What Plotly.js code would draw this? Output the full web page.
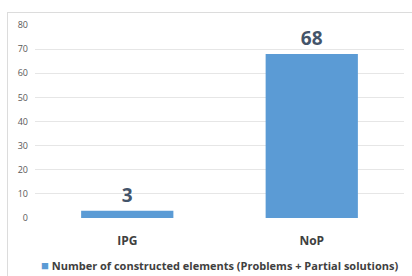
<!DOCTYPE html>
<html><head><meta charset="utf-8">
<script src="https://cdn.plot.ly/plotly-3.0.1.min.js"></script>
<style>
html,body{margin:0;padding:0;background:#fff;}
#frame{position:absolute;left:7px;top:12px;width:420px;height:280px;border:1px solid #dcdcdc;box-sizing:border-box;}
#chart{position:absolute;left:0;top:0;width:412px;height:276px;}
</style></head>
<body>
<div id="frame"></div>
<div id="chart"></div>
<script>
const categories = ["IPG", "NoP"];
const values = [3, 68];
const seriesName = "Number of constructed elements (Problems + Partial solutions)";
const yTicks = [0, 10, 20, 30, 40, 50, 60, 70, 80];
const barColor = "#5B9BD5";

Plotly.newPlot("chart", [{
  type: "bar",
  x: categories,
  y: values,
  name: seriesName,
  text: values.map(String),
  textposition: "outside",
  cliponaxis: false,
  textfont: {family: "Open Sans", size: 19, color: "#44546A", weight: "bold"},
  marker: {color: barColor}
}], {
  width: 412, height: 276,
  paper_bgcolor: "rgba(0,0,0,0)", plot_bgcolor: "rgba(0,0,0,0)",
  margin: {l: 35, r: 8, t: 25, b: 58},
  bargap: 0.5,
  showlegend: false,
  xaxis: {
    tickfont: {family: "Open Sans", size: 12, color: "#404040", weight: "bold"},
    showline: false, ticks: "", ticklen: 0, ticklabelstandoff: 14
  },
  yaxis: {
    range: [0, 80], tickvals: yTicks, ticktext: yTicks.map(String),
    tickfont: {family: "Open Sans", size: 9, color: "#595959"},
    gridcolor: "#e6e6e6", zeroline: false, showline: false, ticks: "", ticklen: 0,
    ticklabelstandoff: 6
  },
  annotations: [{
    xref: "paper", yref: "paper", x: 0.5, y: -0.245, xanchor: "center", yanchor: "middle",
    showarrow: false,
    text: '<span style="color:' + barColor + ';font-size:13px">■</span> ' + seriesName,
    font: {family: "Open Sans", size: 11, color: "#404040", weight: "bold"}
  }]
}, {displayModeBar: false, staticPlot: true});
</script>
</body></html>
